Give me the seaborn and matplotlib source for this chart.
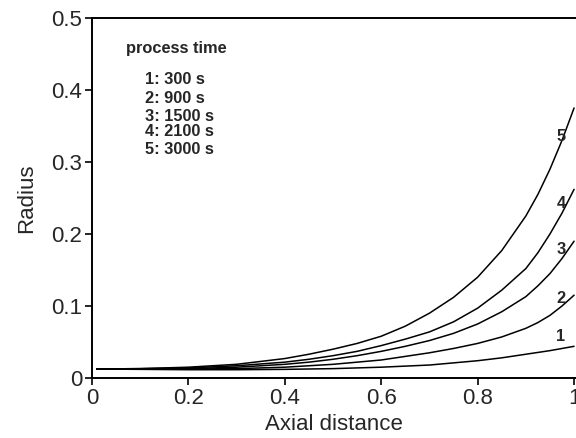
import matplotlib
matplotlib.use("Agg")
import matplotlib.pyplot as plt
import seaborn as sns
import pandas as pd

# Data
axial = [0.01, 0.1, 0.2, 0.3, 0.4, 0.45, 0.5, 0.55, 0.6, 0.65, 0.7, 0.75, 0.8,
         0.85, 0.9, 0.925, 0.95, 0.975, 1.0]
r_300 = [0.0125, 0.012, 0.0115, 0.0115, 0.012, 0.0125, 0.013, 0.014, 0.015, 0.0165,
         0.018, 0.021, 0.024, 0.028, 0.033, 0.0355, 0.038, 0.041, 0.044]
r_900 = [0.0125, 0.0125, 0.0125, 0.013, 0.015, 0.017, 0.019, 0.022, 0.025, 0.030,
         0.035, 0.041, 0.048, 0.057, 0.069, 0.077, 0.087, 0.100, 0.115]
r_1500 = [0.0125, 0.0125, 0.013, 0.015, 0.019, 0.022, 0.026, 0.031, 0.037, 0.044,
          0.052, 0.062, 0.075, 0.092, 0.113, 0.128, 0.145, 0.166, 0.19]
r_2100 = [0.0125, 0.013, 0.014, 0.017, 0.022, 0.026, 0.031, 0.037, 0.045, 0.054,
          0.064, 0.078, 0.097, 0.122, 0.152, 0.174, 0.20, 0.229, 0.262]
r_3000 = [0.0125, 0.013, 0.015, 0.019, 0.027, 0.033, 0.040, 0.048, 0.058, 0.072,
          0.090, 0.112, 0.140, 0.177, 0.225, 0.255, 0.29, 0.33, 0.375]

curve_ids = ["1", "2", "3", "4", "5"]
legend_lines = ["1: 300 s", "2: 900 s", "3: 1500 s", "4: 2100 s", "5: 3000 s"]
x_ticks = [0, 0.2, 0.4, 0.6, 0.8, 1.0]
x_ticklabels = ["0", "0.2", "0.4", "0.6", "0.8", "1"]
y_ticks = [0, 0.1, 0.2, 0.3, 0.4, 0.5]
y_ticklabels = ["0", "0.1", "0.2", "0.3", "0.4", "0.5"]

series = [r_300, r_900, r_1500, r_2100, r_3000]
rows = []
for cid, vals in zip(curve_ids, series):
    for xv, yv in zip(axial, vals):
        rows.append({"x": xv, "r": yv, "curve": cid})
df = pd.DataFrame(rows)

sns.set_theme(style="ticks")
plt.rcParams["font.family"] = ["Liberation Sans", "DejaVu Sans"]

fig = plt.figure(figsize=(5.76, 4.38), dpi=100)
ax = fig.add_axes([0.1597, 0.137, 1.0 - 0.1597, 0.959 - 0.137])

sns.lineplot(data=df, x="x", y="r", hue="curve", palette=["black"] * 5,
             legend=False, linewidth=1.1, ax=ax)

ax.set_xlim(0, 1.004)
ax.set_ylim(0, 0.5)
ax.set_xticks(x_ticks)
ax.set_xticklabels(x_ticklabels)
ax.set_yticks(y_ticks)
ax.set_yticklabels(y_ticklabels)
ax.tick_params(axis="both", labelsize=16, length=5, width=1.2, color="black",
               direction="out", pad=2)
ax.set_xlabel("Axial distance", fontsize=16, labelpad=4)
ax.set_ylabel("Radius", fontsize=16, labelpad=10)
for s in ["left", "bottom", "top"]:
    ax.spines[s].set_linewidth(1.4)
    ax.spines[s].set_color("black")
ax.spines["right"].set_visible(False)

# Annotation block
ax.text(0.0705, 0.458, "process time", fontsize=11.8, fontweight="bold",
        ha="left", va="center")
legend_y = [0.414, 0.3875, 0.3625, 0.343, 0.3167]
for txt, yy in zip(legend_lines, legend_y):
    ax.text(0.110, yy, txt, fontsize=11.8, fontweight="bold", ha="left", va="center")

# Curve labels
label_y = [0.057, 0.111, 0.179, 0.242, 0.335]
for cid, yy in zip(curve_ids, label_y):
    ax.text(0.973, yy, cid, fontsize=11.8, fontweight="bold", ha="center", va="center")

fig.savefig("out.png", dpi=100)
